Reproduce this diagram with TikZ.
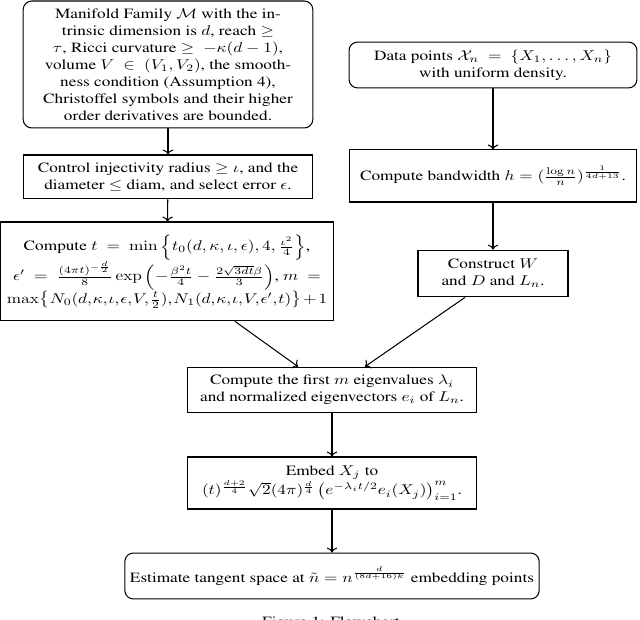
\documentclass[tikz,border=0pt]{standalone}
\usepackage[T1]{fontenc}
\usepackage{times}
\usepackage{amsmath}
\usetikzlibrary{arrows.meta,calc}

\begin{document}
\begin{tikzpicture}[x=0.58pt,y=-0.7073pt,yscale=0.82,transform shape,
  box/.style={draw,semithick,align=center,inner sep=3pt},
  rbox/.style={box,rounded corners=5pt},
  flow/.style={->,semithick}]
\useasboundingbox (0,0) rectangle (640,620);
\node[rbox,minimum width=168pt,minimum height=89.8pt] (manifold) at (168,64.5)
  {Manifold Family $\mathcal{M}$ with the in-\\
   trinsic dimension is $d$, reach $\geq$\\
   $\tau$, Ricci curvature $\geq\ -\kappa(d-1)$,\\
   volume $V\ \in\ (V_1,V_2)$, the smooth-\\
   ness condition (Assumption 4),\\
   Christoffel symbols and their higher\\
   order derivatives are bounded.};
\node[box,minimum width=168pt,minimum height=31.1pt] (control) at (168,177)
  {Control injectivity radius $\geq\iota$, and the\\
   diameter $\leq$ diam, and select error $\epsilon$.};
\node[box,inner xsep=0.8pt,minimum width=192.6pt,minimum height=70pt] (tcompute) at (167,271.5)
  {Compute $t\ =\ \min\left\{t_0(d,\kappa,\iota,\epsilon),4,\frac{\iota^2}{4}\right\}$,\\
   $\epsilon'\ =\ \frac{(4\pi t)^{-\frac{d}{2}}}{8}\exp\left(-\frac{\beta^2t}{4}-\frac{2\sqrt{3dt}\beta}{3}\right)$, $m\ =$\\
   {\thinmuskip=1mu\medmuskip=2mu
   $\max\left\{N_0(d,\kappa,\iota,\epsilon,V,\frac{t}{2}),N_1(d,\kappa,\iota,V,\epsilon',t)\right\}+1$}};
\node[rbox,minimum width=167pt,minimum height=32.5pt] (data) at (493,65)
  {Data points $\mathcal{X}_n\ =\ \{X_1,\dots,X_n\}$\\ with uniform density.};
\node[box,minimum width=167pt,minimum height=36.8pt] (bandwidth) at (493,176)
  {Compute bandwidth $h=(\frac{\log n}{n})^{\frac{1}{4d+13}}$.};
\node[box,minimum width=87pt,minimum height=33.2pt] (construct) at (493,273.5)
  {Construct $W$\\ and $D$ and $L_n$.};
\node[box,minimum width=168pt,minimum height=32.5pt] (eigen) at (332,390)
  {Compute the first $m$ eigenvalues $\lambda_i$\\
   and normalized eigenvectors $e_i$ of $L_n$.};
\node[box,minimum width=168pt,minimum height=36.8pt] (embed) at (332,483)
  {Embed $X_j$ to\\
   $(t)^{\frac{d+2}{4}}\sqrt{2}(4\pi)^{\frac{d}{4}}\left(e^{-\lambda_it/2}e_i(X_j)\right)_{i=1}^m$.};
\node[rbox,minimum width=228pt,minimum height=32.5pt] (tangent) at (332,576)
  {Estimate tangent space at $\tilde{n}=n^{\frac{d}{(8d+16)k}}$ embedding points};
\node[anchor=north] (caption) at (331,612) {Figure 1: Flowchart};
% arrows
\draw[flow] (manifold) -- (control);
\draw[flow] (control) -- (tcompute);
\draw[flow] (data) -- (bandwidth);
\draw[flow] (bandwidth) -- (construct);
\draw[flow] ($(tcompute.south)+(68,0)$) -- ($(eigen.north)+(-34,0)$);
\draw[flow] ($(construct.south)+(-28,0)$) -- ($(eigen.north)+(33,0)$);
\draw[flow] (eigen) -- (embed);
\draw[flow] (embed) -- (tangent);
\end{tikzpicture}
\end{document}
